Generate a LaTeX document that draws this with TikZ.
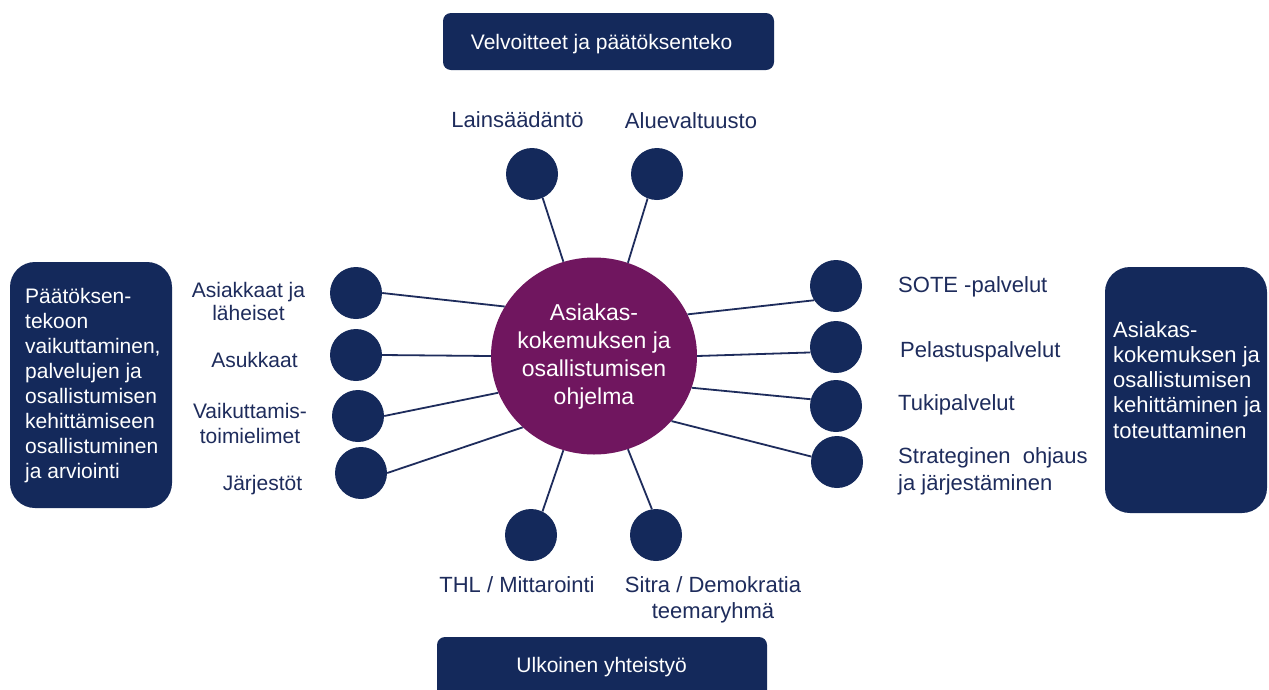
\documentclass[tikz,border=0pt]{standalone}
\usepackage{fontspec}
\setmainfont{Liberation Sans}
\usetikzlibrary{shapes.geometric}
\definecolor{navy}{HTML}{14295B}
\definecolor{ink}{HTML}{1E2C5C}
\definecolor{plum}{HTML}{70165F}
\begin{document}
\begin{tikzpicture}[x=1pt,y=-1pt,
  dot/.style={circle,fill=navy,minimum size=52pt,inner sep=0pt},
  hub/.style={ellipse,fill=plum,minimum width=206pt,minimum height=197pt,inner sep=0pt},
  lbl/.style={text=ink,inner sep=0pt,anchor=base},
  lblw/.style={text=ink,inner sep=0pt,anchor=base west,align=left},
  fa/.style={font=\fontsize{21}{25}\selectfont},
  fb/.style={font=\fontsize{22}{26}\selectfont},
  bar/.style={fill=navy,rounded corners=8pt,inner sep=0pt},
  panel/.style={fill=navy,rounded corners=25pt,inner sep=0pt},
  link/.style={draw=ink,line width=1.8pt}]
\clip (0,0) rectangle (1269,689);
\fill[white] (0,0) rectangle (1269,689);
% boxes
\node[bar,minimum width=331pt,minimum height=57pt] (topbox) at (608.5,41.5) {};
\node[bar,minimum width=330pt,minimum height=63pt] (botbox) at (602,668.5) {};
\node[panel,minimum width=162pt,minimum height=246pt] (leftbox) at (91,385) {};
\node[panel,minimum width=162pt,minimum height=246pt] (rightbox) at (1186,390) {};
% hub
\node[hub] (hub) at (594,356) {};
\node[text=white,inner sep=0pt,anchor=base,align=center,font=\fontsize{23}{27.7}\selectfont] (hubtxt) at (594,404) {Asiakas-\\kokemuksen ja\\osallistumisen\\ohjelma};
% dots
\node[dot] (l1) at (532,174) {};
\node[dot] (l2) at (657,174) {};
\node[dot] (a1) at (356,293) {};
\node[dot] (a2) at (356,355) {};
\node[dot] (a3) at (358,416) {};
\node[dot] (a4) at (361,473) {};
\node[dot] (b1) at (836,286) {};
\node[dot] (b2) at (836,347) {};
\node[dot] (b3) at (836,406) {};
\node[dot] (b4) at (837,462) {};
\node[dot] (t1) at (531,535) {};
\node[dot] (t2) at (656,535) {};
% links
\draw[link] (l1.294) -- (hub.108);
\draw[link] (l2.249) -- (hub.70);
\draw[link] (a1.east) -- (hub.151);
\draw[link] (a2.east) -- (hub.180);
\draw[link] (a3.east) -- (hub.201);
\draw[link] (a4.east) -- (hub.225);
\draw[link] (b1.213) -- (hub.24);
\draw[link] (b2.192) -- (hub.0);
\draw[link] (b3.165) -- (hub.342);
\draw[link] (b4.168) -- (hub.320);
\draw[link] (t1.64) -- (hub.252);
\draw[link] (t2.99) -- (hub.290);
% texts
\node[lbl,fa,text=white] (toptxt) at (601.7,49) {Velvoitteet ja päätöksenteko};
\node[lbl,fa,text=white] (bottxt) at (601.7,672) {Ulkoinen yhteistyö};
\node[lblw,fa,text=white] (lefttxt) at (25,478) {Päätöksen-\\tekoon\\vaikuttaminen,\\palvelujen ja\\osallistumisen\\kehittämiseen\\osallistuminen\\ja arviointi};
\node[lblw,text=white,font=\fontsize{22}{25.25}\selectfont] (righttxt) at (1113,438) {Asiakas-\\kokemuksen ja\\osallistumisen\\kehittäminen ja\\toteuttaminen};
\node[lbl,fb] (l1t) at (517.5,127) {Lainsäädäntö};
\node[lbl,fb] (l2t) at (691,128) {Aluevaltuusto};
\node[lbl,align=center,font=\fontsize{21}{23}\selectfont] (a1t) at (248.5,320) {Asiakkaat ja\\läheiset};
\node[lbl,fa] (a2t) at (254.5,367) {Asukkaat};
\node[lbl,align=center,fa] (a3t) at (250,443) {Vaikuttamis-\\toimielimet};
\node[lbl,fa] (a4t) at (262.5,490) {Järjestöt};
\node[lblw,fb] (b1t) at (898,292) {SOTE -palvelut};
\node[lblw,fb] (b2t) at (900,357) {Pelastuspalvelut};
\node[lblw,fb] (b3t) at (898,410) {Tukipalvelut};
\node[lblw,font=\fontsize{22}{27}\selectfont] (b4t) at (898,490) {Strateginen\hspace{6pt} ohjaus\\ja järjestäminen};
\node[lbl,fb] (t1t) at (517,592) {THL / Mittarointi};
\node[lbl,align=center,fb] (t2t) at (713,618) {Sitra / Demokratia\\teemaryhmä};
\end{tikzpicture}
\end{document}
